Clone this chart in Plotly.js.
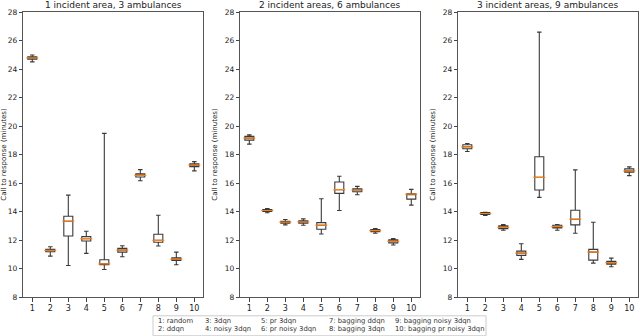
<!DOCTYPE html>
<html>
<head>
<meta charset="utf-8">
<script src="https://cdn.plot.ly/plotly-3.0.1.min.js"></script>
<style>
  body { margin: 0; }
  #plot { width: 640px; height: 336px; }
</style>
</head>
<body>
<div id="plot"></div>
<script>
// method index on x axis, 1..10
var methodIds = [1, 2, 3, 4, 5, 6, 7, 8, 9, 10];
var methodNames = ["random", "ddqn", "3dqn", "noisy 3dqn", "pr 3dqn",
  "pr noisy 3dqn", "bagging ddqn", "bagging 3dqn", "bagging noisy 3dqn",
  "bagging pr noisy 3dqn"];
var panelTitles = ["1 incident area, 3 ambulances",
  "2 incident areas, 6 ambulances", "3 incident areas, 9 ambulances"];

// panel 1: 1 incident area, 3 ambulances
var low1 = [24.50, 10.87, 10.21, 11.06, 9.93, 10.82, 16.16, 11.58, 10.26, 16.85];
var q1_1 = [24.68, 11.18, 12.28, 11.93, 10.26, 11.15, 16.42, 11.84, 10.56, 17.15];
var med1 = [24.78, 11.27, 13.32, 12.09, 10.33, 11.29, 16.54, 11.98, 10.66, 17.25];
var q3_1 = [24.86, 11.34, 13.67, 12.24, 10.61, 11.41, 16.64, 12.40, 10.75, 17.34];
var up1 = [24.98, 11.53, 15.15, 12.61, 19.48, 11.60, 16.94, 13.74, 11.15, 17.50];

// panel 2: 2 incident areas, 6 ambulances
var low2 = [18.73, 13.91, 13.06, 13.04, 12.42, 14.07, 15.18, 12.47, 11.65, 14.45];
var q1_2 = [19.01, 14.00, 13.18, 13.18, 12.75, 15.27, 15.39, 12.59, 11.80, 14.87];
var med2 = [19.15, 14.07, 13.25, 13.27, 13.04, 15.53, 15.51, 12.66, 11.91, 15.22];
var q3_2 = [19.27, 14.14, 13.32, 13.34, 13.22, 16.07, 15.60, 12.73, 12.01, 15.25];
var up2 = [19.38, 14.21, 13.44, 13.48, 14.89, 16.47, 15.76, 12.80, 12.10, 15.55];

// panel 3: 3 incident areas, 9 ambulances
var low3 = [18.21, 13.72, 12.68, 10.64, 14.99, 12.68, 12.47, 10.38, 10.12, 16.52];
var q1_3 = [18.40, 13.79, 12.80, 10.92, 15.51, 12.85, 13.06, 10.59, 10.31, 16.75];
var med3 = [18.54, 13.86, 12.89, 11.08, 16.40, 12.94, 13.46, 11.15, 10.41, 16.85];
var q3_3 = [18.68, 13.93, 12.99, 11.22, 17.84, 13.04, 14.09, 11.34, 10.50, 16.99];
var up3 = [18.77, 13.95, 13.08, 11.74, 26.59, 13.08, 16.92, 13.25, 10.73, 17.13];

var yTicks = [8, 10, 12, 14, 16, 18, 20, 22, 24, 26, 28];

var panels = [
  [low1, q1_1, med1, q3_1, up1],
  [low2, q1_2, med2, q3_2, up2],
  [low3, q1_3, med3, q3_3, up3]
];
var domains = [[0.0364, 0.3177], [0.3755, 0.6567], [0.7161, 0.9973]];

var data = [];
var layout = {
  width: 640, height: 336,
  margin: {l: 0, r: 0, t: 12, b: 39},
  paper_bgcolor: "white", plot_bgcolor: "white",
  font: {family: "DejaVu Sans", size: 8, color: "#222"},
  showlegend: false,
  annotations: [],
  shapes: []
};

panels.forEach(function (p, i) {
  var n = i + 1;
  var xa = n === 1 ? "x" : "x" + n;
  var ya = n === 1 ? "y" : "y" + n;
  data.push({
    type: "box",
    x: methodIds,
    lowerfence: p[0], q1: p[1], median: p[2], q3: p[3], upperfence: p[4],
    xaxis: xa, yaxis: ya,
    width: 0.5, whiskerwidth: 0.5,
    fillcolor: "white",
    line: {color: "#3a3a3a", width: 1.1},
    boxpoints: false,
    hoverinfo: "skip"
  });
  // orange median line on top of the box
  data.push({
    type: "scatter", mode: "markers",
    x: methodIds, y: p[2],
    xaxis: xa, yaxis: ya,
    marker: {symbol: "line-ew", size: 8.5, line: {color: "#ff7f0e", width: 1.2}},
    hoverinfo: "skip"
  });

  layout["xaxis" + (n === 1 ? "" : n)] = {
    domain: domains[i], anchor: ya,
    range: [0.5, 10.5],
    tickmode: "array", tickvals: methodIds, ticktext: methodIds.map(String),
    ticks: "outside", ticklen: 3.5, tickcolor: "#444",
    showline: true, mirror: true, linecolor: "#555", linewidth: 1,
    showgrid: false, zeroline: false,
    tickfont: {size: 8}
  };
  layout["yaxis" + (n === 1 ? "" : n)] = {
    anchor: xa,
    range: [8, 28],
    tickmode: "array", tickvals: yTicks,
    ticks: "outside", ticklen: 3.5, tickcolor: "#444",
    showline: true, mirror: true, linecolor: "#555", linewidth: 1,
    showgrid: false, zeroline: false,
    tickfont: {size: 7.5},
    title: {text: "Call to response (minutes)", font: {size: 7}, standoff: 6}
  };
  layout.annotations.push({
    text: panelTitles[i], xref: "paper", yref: "paper",
    x: (domains[i][0] + domains[i][1]) / 2, xanchor: "center",
    y: 1, yanchor: "bottom",
    yshift: 0, showarrow: false, font: {size: 9, color: "#222"}
  });
});

// legend box below the middle panel (paper y is relative to the 285px plot height)
layout.shapes.push({
  type: "rect", xref: "paper", yref: "paper",
  x0: 153 / 640, x1: 486 / 640, y0: -0.136, y1: -0.066,
  line: {color: "#ccc", width: 1}, fillcolor: "white"
});
var colX = [156, 203, 259, 327, 393];
methodNames.forEach(function (name, k) {
  var col = Math.floor(k / 2), row = k % 2;
  layout.annotations.push({
    text: methodIds[k] + ": " + name, xref: "paper", yref: "paper",
    x: colX[col] / 640, xanchor: "left",
    y: row === 0 ? -0.084 : -0.112, yanchor: "middle",
    showarrow: false, font: {size: 6.8, color: "#333"}
  });
});

Plotly.newPlot("plot", data, layout, {staticPlot: true});
</script>
</body>
</html>
